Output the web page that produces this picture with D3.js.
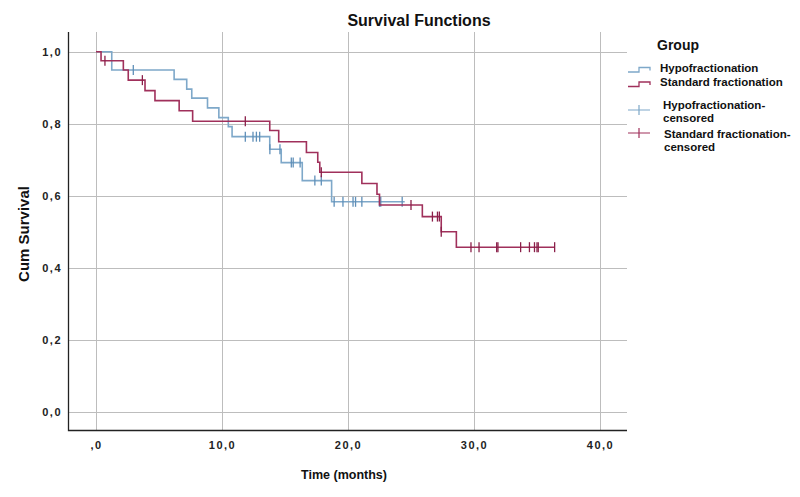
<!DOCTYPE html>
<html>
<head>
<meta charset="utf-8">
<script src="https://cdn.jsdelivr.net/npm/d3@7"></script>
<style>
  html, body { margin: 0; padding: 0; background: #fff; }
  svg { display: block; font-family: "Liberation Sans", Arial, sans-serif; }
</style>
</head>
<body>
<script>
// --- Data (time in months, cumulative survival after each step) ---
const hypoTimes = [0, 1.25, 6.2, 7.2, 7.6, 8.85, 9.75, 10.5, 10.8, 13.79, 14.7, 16.37, 18.7];
const hypoSurv  = [1.0, 0.949, 0.923, 0.896, 0.871, 0.844, 0.817, 0.792, 0.764, 0.729, 0.692, 0.642, 0.583];
const hypoEnd = 24.5;
const hypoCensored = [2.96, 11.85, 12.46, 12.73, 12.99, 13.8, 14.6, 15.5, 15.65, 16.2, 17.37, 17.88,
                      18.9, 19.6, 20.4, 20.6, 21.1, 22.5, 22.6, 24.3];

const stdTimes = [0, 0.4, 2.17, 2.56, 3.89, 4.68, 6.6, 7.67, 13.79, 14.5, 16.7, 17.6, 17.76, 21.1, 22.3, 22.5, 25.9, 27.4, 28.6];
const stdSurv  = [1.0, 0.975, 0.949, 0.921, 0.892, 0.864, 0.836, 0.807, 0.781, 0.75, 0.72, 0.693, 0.665, 0.634, 0.604, 0.574, 0.542, 0.5, 0.457];
const stdEnd = 36.4;
const stdCensored = [0.71, 3.68, 11.85, 17.88, 25.0, 26.7, 27.1, 27.25, 27.4, 29.76, 30.4, 31.8, 31.9,
                     33.7, 34.4, 34.8, 35.0, 35.1, 36.4];

const xTicks = [0, 10, 20, 30, 40];
const xTickLabels = [",0", "10,0", "20,0", "30,0", "40,0"];
const yTicks = [0, 0.2, 0.4, 0.6, 0.8, 1.0];
const yTickLabels = ["0,0", "0,2", "0,4", "0,6", "0,8", "1,0"];

const groups = [
  { name: "Hypofractionation", times: hypoTimes, surv: hypoSurv, end: hypoEnd, censored: hypoCensored,
    line: "#7ea8c9", mark: "#5f8fb8" },
  { name: "Standard fractionation", times: stdTimes, surv: stdSurv, end: stdEnd, censored: stdCensored,
    line: "#a0305b", mark: "#8a1f49" }
];

const W = 800, H = 497;
const plot = { left: 68, right: 627, top: 32, bottom: 430 };

const x = d3.scaleLinear().domain([0, 40]).range([96, 600]);
const y = d3.scaleLinear().domain([0, 1]).range([411.7, 51.7]);

const svg = d3.select("body").append("svg").attr("width", W).attr("height", H);

// --- Grid ---
const grid = svg.append("g").attr("stroke", "#bdbdbd").attr("stroke-width", 1).attr("shape-rendering", "crispEdges");
grid.selectAll("line.v").data(xTicks).join("line")
  .attr("x1", d => Math.round(x(d)) + 0.5).attr("x2", d => Math.round(x(d)) + 0.5)
  .attr("y1", plot.top).attr("y2", plot.bottom);
grid.selectAll("line.h").data(yTicks).join("line")
  .attr("x1", plot.left).attr("x2", plot.right)
  .attr("y1", d => Math.round(y(d)) + 0.5).attr("y2", d => Math.round(y(d)) + 0.5);

// --- Axes (labels only, SPSS style) ---
const xAxis = svg.append("g").attr("transform", `translate(0,${plot.bottom})`)
  .call(d3.axisBottom(x).tickValues(xTicks).tickSize(0).tickPadding(11)
    .tickFormat((d, i) => xTickLabels[i]));
xAxis.select(".domain").remove();
const yAxis = svg.append("g").attr("transform", `translate(${plot.left},0)`)
  .call(d3.axisLeft(y).tickValues(yTicks).tickSize(0).tickPadding(6)
    .tickFormat((d, i) => yTickLabels[i]));
yAxis.select(".domain").remove();
svg.selectAll(".tick text")
  .attr("font-family", "'Liberation Sans', Arial, sans-serif")
  .attr("font-size", 11).attr("font-weight", "bold").attr("fill", "#222")
  .style("letter-spacing", "1.5px");

svg.append("path")
  .attr("d", `M${plot.left + 0.5},${plot.top}V${plot.bottom + 0.5}H${plot.right}`)
  .attr("fill", "none").attr("stroke", "#222").attr("stroke-width", 1.3);

// --- Curves ---
const stepLine = d3.line().x(d => x(d[0])).y(d => y(d[1])).curve(d3.curveStepAfter);

groups.forEach(g => {
  const pts = g.times.map((t, i) => [t, g.surv[i]]);
  pts.push([g.end, g.surv[g.surv.length - 1]]);
  svg.append("path").attr("d", stepLine(pts))
    .attr("fill", "none").attr("stroke", g.line).attr("stroke-width", 1.6);

  const survAt = t => g.surv[Math.max(0, d3.bisectRight(g.times, t) - 1)];
  svg.append("g").selectAll("line").data(g.censored).join("line")
    .attr("x1", d => x(d)).attr("x2", d => x(d))
    .attr("y1", d => y(survAt(d)) - 5).attr("y2", d => y(survAt(d)) + 5)
    .attr("stroke", g.mark).attr("stroke-width", 1.3);
});

// --- Titles ---
svg.append("text").attr("x", 419).attr("y", 26).attr("text-anchor", "middle")
  .attr("font-size", 16).attr("font-weight", "bold").attr("fill", "#111").text("Survival Functions");
svg.append("text").attr("x", 344).attr("y", 479).attr("text-anchor", "middle")
  .attr("font-size", 12.5).attr("font-weight", "bold").attr("fill", "#111").text("Time (months)");
svg.append("text").attr("transform", "translate(29,234) rotate(-90)").attr("text-anchor", "middle")
  .attr("font-size", 15).attr("font-weight", "bold").attr("fill", "#111").text("Cum Survival");

// --- Legend ---
const lg = svg.append("g");
lg.append("text").attr("x", 657).attr("y", 50).attr("font-size", 14).attr("font-weight", "bold")
  .attr("fill", "#111").text("Group");

const legendItems = [
  { kind: "step", g: groups[0], lines: ["Hypofractionation"], ty: 72, sy: 70, tx: 660 },
  { kind: "step", g: groups[1], lines: ["Standard fractionation"], ty: 86, sy: 84.5, tx: 660 },
  { kind: "cross", g: groups[0], lines: ["Hypofractionation-", "censored"], ty: 109, sy: 110, tx: 663 },
  { kind: "cross", g: groups[1], lines: ["Standard fractionation-", "censored"], ty: 138, sy: 133, tx: 664 }
];

legendItems.forEach(it => {
  if (it.kind === "step") {
    lg.append("path")
      .attr("d", `M628,${it.sy + 2}H639V${it.sy - 2.5}H650V${it.sy + 0.5}`)
      .attr("fill", "none").attr("stroke", it.g.line).attr("stroke-width", 1.3);
  } else {
    lg.append("path")
      .attr("d", `M628,${it.sy}H650M639,${it.sy - 5}V${it.sy + 5}`)
      .attr("fill", "none").attr("stroke", it.g.line).attr("stroke-width", 1.2);
  }
  const t = lg.append("text").attr("x", it.tx).attr("y", it.ty)
    .attr("font-size", 11.5).attr("font-weight", "bold").attr("fill", "#111");
  it.lines.forEach((s, i) => t.append("tspan").attr("x", it.tx).attr("dy", i ? 12.5 : 0).text(s));
});
</script>
</body>
</html>
